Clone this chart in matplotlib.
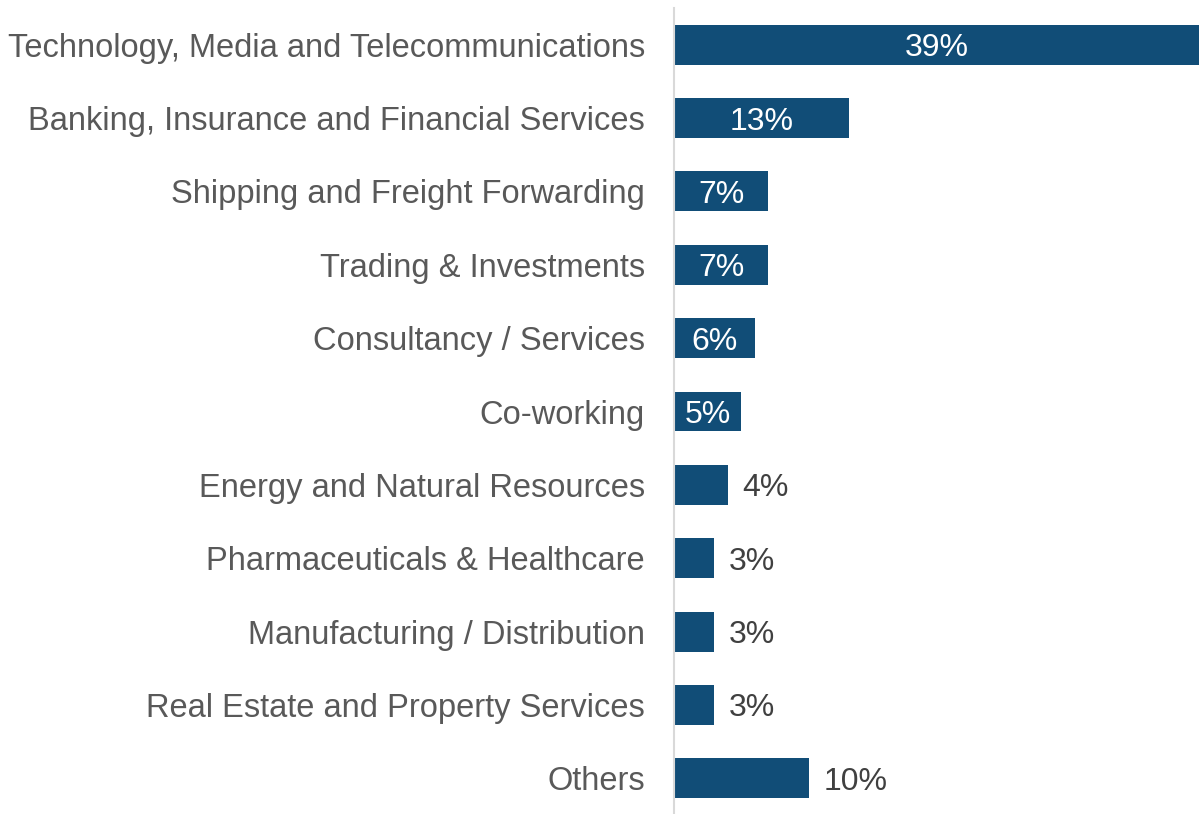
import matplotlib
matplotlib.use("Agg")
import matplotlib.pyplot as plt

# ── Data ──────────────────────────────────────────────────────────────────────

sectors = [
    "Technology, Media and Telecommunications",
    "Banking, Insurance and Financial Services",
    "Shipping and Freight Forwarding",
    "Trading & Investments",
    "Consultancy / Services",
    "Co-working",
    "Energy and Natural Resources",
    "Pharmaceuticals & Healthcare",
    "Manufacturing / Distribution",
    "Real Estate and Property Services",
    "Others",
]
shares = [39, 13, 7, 7, 6, 5, 4, 3, 3, 3, 10]
label_inside = [True, True, True, True, True, True,
                False, False, False, False, False]

BAR_COLOR = "#114d77"

plt.rcParams["font.family"] = ["Liberation Sans", "DejaVu Sans"]

# ── Plot ──────────────────────────────────────────────────────────────────────

W, H = 1203, 814
fig = plt.figure(figsize=(W / 100, H / 100), dpi=100)
ax = fig.add_axes([674 / W, -1 / H, (1199 - 674) / W, 807 / H])

ypos = list(range(len(sectors)))
ax.barh(ypos, shares, height=0.545, color=BAR_COLOR, edgecolor="none")

for y, v, inside in zip(ypos, shares, label_inside):
    txt = f"{v}%"
    if inside:
        ax.text(v / 2, y, txt, ha="center", va="center_baseline",
                color="white", fontsize=23)
    else:
        ax.text(v + 1.1, y, txt, ha="left", va="center_baseline",
                color="#404040", fontsize=23)

ax.set_xlim(0, 39)
ax.set_ylim(len(sectors) - 0.5, -0.5)
ax.set_yticks(ypos)
ax.set_yticklabels(sectors, fontsize=23.5, color="#595959")
ax.set_xticks([])
ax.tick_params(axis="y", length=0, pad=21)

for side in ("top", "right", "bottom"):
    ax.spines[side].set_visible(False)
ax.spines["left"].set_color("#d9d9d9")
ax.spines["left"].set_linewidth(1.5)

fig.savefig("out.png", dpi=100)
